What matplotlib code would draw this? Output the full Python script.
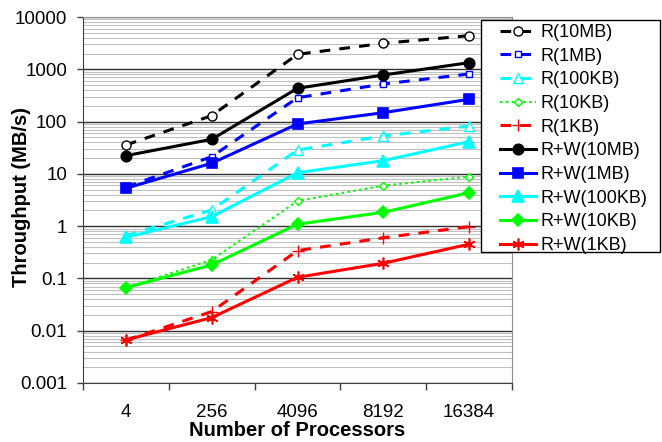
import matplotlib.pyplot as plt
from matplotlib.patches import Rectangle
from matplotlib.ticker import FixedLocator, NullFormatter, LogLocator

plt.rcParams['font.family'] = ['Liberation Sans', 'DejaVu Sans']

processors = ["4", "256", "4096", "8192", "16384"]
sizes = ["10MB", "1MB", "100KB", "10KB", "1KB"]
colors = ["#000000", "#0000ff", "#00ffff", "#00ff00", "#ff0000"]

# read-only throughput (MB/s)
r_10mb = [35.7, 130, 1936, 3140, 4400]
r_1mb = [5.6, 21.3, 286, 523, 813]
r_100kb = [0.66, 2.04, 28.6, 53, 82]
r_10kb = [0.066, 0.226, 3.03, 5.95, 8.85]
r_1kb = [0.0066, 0.0232, 0.34, 0.60, 0.98]

# read+write throughput (MB/s)
rw_10mb = [22.3, 45.8, 433, 778, 1340]
rw_1mb = [5.3, 16.0, 90, 148, 267]
rw_100kb = [0.61, 1.52, 10.5, 17.9, 41.3]
rw_10kb = [0.0667, 0.181, 1.09, 1.84, 4.37]
rw_1kb = [0.00667, 0.0178, 0.105, 0.195, 0.451]

r_series = [r_10mb, r_1mb, r_100kb, r_10kb, r_1kb]
rw_series = [rw_10mb, rw_1mb, rw_100kb, rw_10kb, rw_1kb]

r_markers = [("o", 6.5), ("s", 4.5), ("^", 7), ("D", 4.5), ("+", 8)]
rw_markers = [("o", 7.5), ("s", 7.5), ("^", 8), ("D", 6), ((6, 2, 0), 8.5)]

fig = plt.figure(figsize=(6.62, 4.42), dpi=100)
ax = fig.add_axes([0.1254, 0.1335, 0.648, 0.828])

x = list(range(len(processors)))

for i, vals in enumerate(r_series):
    m, ms = r_markers[i]
    dashes = (1.2, 1.6) if i == 3 else (3.5, 3)
    lw = 1.5 if i == 3 else 2.2
    ax.plot(x, vals, color=colors[i], lw=lw, dashes=dashes, marker=m, ms=ms,
            mfc="white" if m != "+" else colors[i], mec=colors[i], mew=1.0,
            label="R(%s)" % sizes[i], zorder=3)

for i, vals in enumerate(rw_series):
    m, ms = rw_markers[i]
    ax.plot(x, vals, color=colors[i], lw=2.2, marker=m, ms=ms,
            mfc=colors[i], mec=colors[i], mew=1.2,
            label="R+W(%s)" % sizes[i], zorder=4)

ax.set_yscale("log")
ax.set_ylim(0.001, 10000)
ax.set_xlim(-0.5, 4.5)

ax.yaxis.set_minor_locator(LogLocator(base=10, subs=range(2, 10), numticks=20))
ax.yaxis.set_minor_formatter(NullFormatter())
ax.set_yticks([0.001, 0.01, 0.1, 1, 10, 100, 1000, 10000])
ax.set_yticklabels(["0.001", "0.01", "0.1", "1", "10", "100", "1000", "10000"])
ax.grid(which="major", axis="y", color="#303030", lw=1.0, zorder=1)
ax.grid(which="minor", axis="y", color="#c0c0c0", lw=0.8, zorder=0)

ax.xaxis.set_major_locator(FixedLocator([-0.5, 0.5, 1.5, 2.5, 3.5, 4.5]))
ax.xaxis.set_major_formatter(NullFormatter())
ax.xaxis.set_minor_locator(FixedLocator(x))
ax.set_xticklabels(processors, minor=True)

ax.tick_params(axis="x", which="major", length=5, width=1, color="#404040")
ax.tick_params(axis="x", which="minor", length=0, pad=15, labelsize=13.5)
ax.tick_params(axis="y", which="major", length=4.5, width=1, color="#404040",
               pad=7, labelsize=13.5)
ax.tick_params(axis="y", which="minor", length=0)

for side in ["left", "bottom"]:
    ax.spines[side].set_color("#404040")
for side in ["top", "right"]:
    ax.spines[side].set_color("#909090")

fig.text(297.5 / 662, 1 - 430 / 442, "Number of Processors", fontsize=14.5,
         fontweight="bold", ha="center", va="center")
fig.text(22 / 662, 1 - 197 / 442, "Throughput (MB/s)", fontsize=14.5,
         fontweight="bold", ha="center", va="center", rotation=90)

# legend box
frame = Rectangle((481 / 662, 1 - 252 / 442), 179 / 662, 232 / 442,
                  transform=fig.transFigure, facecolor="white",
                  edgecolor="black", lw=1.0, zorder=4)
fig.patches.append(frame)

leg = fig.legend(loc="upper left", bbox_to_anchor=(500 / 662, 1 - 24 / 442),
                 fontsize=13, frameon=False, handlelength=2.0,
                 labelspacing=0.37, borderpad=0, handletextpad=0.25,
                 borderaxespad=0)
leg.set_zorder(5)

fig.savefig("out.png", dpi=100)
